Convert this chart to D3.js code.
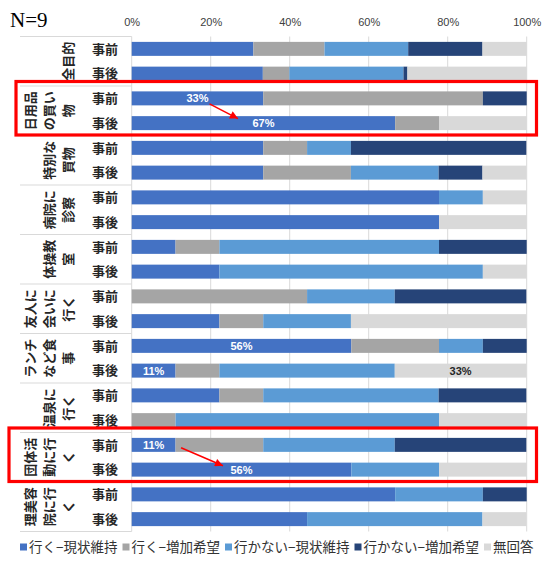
<!DOCTYPE html>
<html><head><meta charset="utf-8">
<script src="https://cdn.jsdelivr.net/npm/d3@7"></script>
<style>
html,body{margin:0;padding:0;background:#fff;}
svg{display:block;}
</style></head>
<body>
<svg id="chart" width="552" height="563"></svg>
<script>
// ---- data ----
const categories = ["全目的","日用品の買い物","特別な買物","病院に診察","体操教室","友人に会いに行く","ランチなど食事","温泉に行く","団体活動に行く","理美容院に行く"];
const categoryLines = [["全目的"],["日用品","の買い","物"],["特別な","買物"],["病院に","診察"],["体操教","室"],["友人に","会いに","行く"],["ランチ","など食","事"],["温泉に","行く"],["団体活","動に行","く"],["理美容","院に行","く"]];
const phases = ["事前","事後"];
const seriesNames = ["行く−現状維持","行く−増加希望","行かない−現状維持","行かない−増加希望","無回答"];
const seriesColors = ["#4472C4","#A5A5A5","#5B9BD5","#264478","#D9D9D9"];
// percentages, one value per bar (category x phase), in order
const goKeep     = [30.8,33.2, 33.3,66.7, 33.3,33.3, 77.8,77.8, 11.1,22.2,  0.0,22.2, 55.6,11.1, 22.2, 0.0, 11.1,55.6, 66.7,44.4];
const goMore     = [18.0, 6.7, 55.6,11.1, 11.1,22.2,  0.0, 0.0, 11.1, 0.0, 44.4,11.1, 22.2,11.1, 11.1,11.1, 22.2, 0.0,  0.0, 0.0];
const noGoKeep   = [21.2,28.9,  0.0, 0.0, 11.1,22.2, 11.1, 0.0, 55.6,66.7, 22.2,22.2, 11.1,44.4, 44.4,66.7, 33.3,22.2, 22.2,44.4];
const noGoMore   = [18.8, 1.0, 11.1, 0.0, 44.4,11.1,  0.0, 0.0, 22.2, 0.0, 33.3, 0.0, 11.1, 0.0, 22.2, 0.0, 33.3, 0.0, 11.1, 0.0];
const noAnswer   = [11.2,30.2,  0.0,22.2,  0.0,11.1, 11.1,22.2,  0.0,11.1,  0.0,44.4,  0.0,33.3,  0.0,22.2,  0.0,22.2,  0.0,11.1];
const tickValues = [0,20,40,60,80,100];
// value labels: [bar index, series index, text]
const valueLabels = [[2,0,"33%"],[3,0,"67%"],[12,0,"56%"],[13,0,"11%"],[13,4,"33%"],[16,0,"11%"],[17,0,"56%"]];
// highlighted categories and arrows (bar index, value position)
const highlightCats = [1,8];
const arrows = [{from:[2,19.7,0.78],to:[3,26.9,-0.65]},{from:[16,12.5,0.42],to:[17,23.1,-0.55]}];
const sampleLabel = "N=9";

// ---- build ----
const svg = d3.select("#chart");
const jp = "'Noto Sans CJK JP','Noto Sans',sans-serif";
const sans = "'Liberation Sans',Arial,sans-serif";

const seriesArrays = [goKeep,goMore,noGoKeep,noGoMore,noAnswer];
const rows = d3.range(categories.length*2).map(i=>{
  const r = {idx:i};
  seriesNames.forEach((s,k)=> r[s] = seriesArrays[k][i]);
  return r;
});

const x = d3.scaleLinear().domain([0,100]).range([131.7,526.7]);
const y = d3.scaleBand().domain(rows.map(r=>r.idx)).range([36.5,531.5]).paddingInner(0.435).paddingOuter(0.2175);
const bw = y.bandwidth();
const yCenter = i => y(i)+bw/2;
const catStep = y.step()*2;
const catStart = c => 36.5 + c*catStep;

// N=9
svg.append("text").attr("x",10).attr("y",27).attr("font-family","'Liberation Serif','DejaVu Serif',serif")
  .attr("font-size",21).attr("fill","#000").text(sampleLabel);

// gridlines
svg.append("g").selectAll("line").data(tickValues).join("line")
  .attr("x1",d=>x(d)).attr("x2",d=>x(d)).attr("y1",36.5).attr("y2",531.5)
  .attr("stroke","#D9D9D9").attr("stroke-width",1);

// table lines on the left
svg.append("g").selectAll("line").data(d3.range(categories.length+1)).join("line")
  .attr("x1",20).attr("x2",131.7).attr("y1",c=>catStart(c)).attr("y2",c=>catStart(c))
  .attr("stroke","#D9D9D9").attr("stroke-width",1);

// axis
const axis = d3.axisTop(x).tickValues(tickValues).tickFormat(d=>d+"%").tickSize(0).tickPadding(3);
const ag = svg.append("g").attr("transform","translate(0,29)").call(axis);
ag.select(".domain").remove();
ag.selectAll("text").attr("font-family",sans).attr("font-size",11).attr("fill","#404040");

// stacked bars
const stacked = d3.stack().keys(seriesNames)(rows);
svg.append("g").selectAll("g").data(stacked).join("g")
  .attr("fill",(d,i)=>seriesColors[i])
  .selectAll("rect").data(d=>d.filter(p=>p[1]-p[0]>0)).join("rect")
  .attr("x",d=>x(d[0])).attr("width",d=>x(d[1])-x(d[0]))
  .attr("y",d=>y(d.data.idx)).attr("height",bw);

// value labels
svg.append("g").selectAll("text").data(valueLabels).join("text")
  .attr("x",d=>{const seg=stacked[d[1]][d[0]]; return (x(seg[0])+x(seg[1]))/2;})
  .attr("y",d=>yCenter(d[0])).attr("dy","0.36em")
  .attr("text-anchor","middle").attr("font-family",sans).attr("font-weight","bold").attr("font-size",11)
  .attr("fill",d=>d[1]===4?"#262626":"#fff").text(d=>d[2]);

// category labels (rotated, Excel style)
const cl = svg.append("g");
categoryLines.forEach((lines,c)=>{
  const cy = catStart(c)+catStep/2;
  const n = lines.length;
  lines.forEach((ln,k)=>{
    const cx = 68 - (n-1-k)*19;
    cl.append("text").attr("transform",`translate(${cx},${cy}) rotate(-90)`)
      .attr("text-anchor","middle").attr("dy","0.36em")
      .attr("font-family",jp).attr("font-weight","bold").attr("font-size",13).attr("fill","#262626").text(ln);
  });
});
// phase labels
svg.append("g").selectAll("text").data(rows).join("text")
  .attr("x",105).attr("y",d=>yCenter(d.idx)).attr("dy","0.36em").attr("text-anchor","middle")
  .attr("font-family",jp).attr("font-weight","bold").attr("font-size",13).attr("fill","#262626").text(d=>phases[d.idx%2]);

// highlight boxes
const boxLeft = [16,9];
svg.append("g").selectAll("rect").data(highlightCats).join("rect")
  .attr("x",(c,i)=>boxLeft[i]).attr("width",(c,i)=>536.5-boxLeft[i])
  .attr("y",c=>catStart(c)-4.5).attr("height",catStep+4)
  .attr("fill","none").attr("stroke","#FF0000").attr("stroke-width",3.2);

// arrows
svg.append("defs").append("marker").attr("id","ah").attr("viewBox","0 0 10 10").attr("refX",10).attr("refY",5)
  .attr("markerWidth",10).attr("markerHeight",8).attr("markerUnits","userSpaceOnUse").attr("orient","auto")
  .append("path").attr("d","M0,0L10,5L0,10z").attr("fill","#FF0000");
svg.append("g").selectAll("line").data(arrows).join("line")
  .attr("x1",d=>x(d.from[1])).attr("y1",d=>yCenter(d.from[0])+d.from[2]*bw/2)
  .attr("x2",d=>x(d.to[1])).attr("y2",d=>yCenter(d.to[0])+d.to[2]*bw/2)
  .attr("stroke","#FF0000").attr("stroke-width",1.5).attr("marker-end","url(#ah)");

// legend
const lg = svg.append("g").attr("transform","translate(20,547)");
let lx = 0;
seriesNames.forEach((s,i)=>{
  lg.append("rect").attr("x",lx).attr("y",-3.5).attr("width",7).attr("height",7).attr("fill",seriesColors[i]);
  const t = lg.append("text").attr("x",lx+9).attr("y",0).attr("dy","0.36em")
    .attr("font-family",jp).attr("font-size",13.5).attr("fill","#333").text(s);
  lx += 9 + t.node().getComputedTextLength() + 5;
});
</script>
</body></html>
